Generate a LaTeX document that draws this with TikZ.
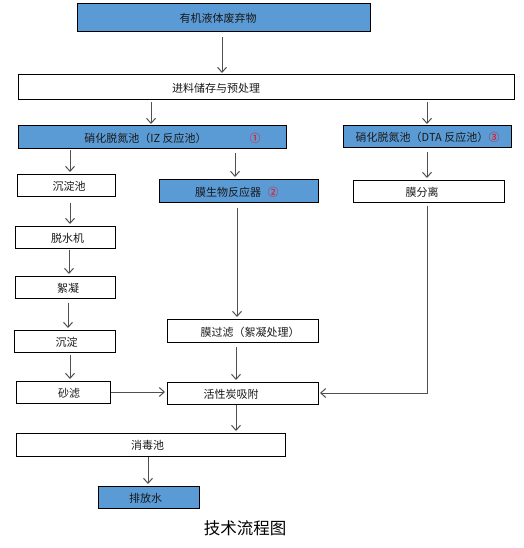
\documentclass[tikz,border=0pt]{standalone}
\usepackage{fontspec}
\setmainfont{Noto Sans CJK SC}
\usetikzlibrary{arrows.meta}
\definecolor{boxblue}{RGB}{91,155,213}
\definecolor{lnc}{RGB}{80,80,80}
\begin{document}
\begin{tikzpicture}[x=1pt,y=-1pt,
  box/.style={draw=black, line width=1pt, fill=white, inner sep=0pt},
  bbox/.style={box, fill=boxblue},
  txt/.style={font=\fontsize{11}{13}\selectfont, inner sep=0pt, text=black!90},
  num/.style={font=\fontsize{11}{13}\selectfont, inner sep=0pt, text=red},
  arr/.style={draw=lnc, line width=1pt, -{Straight Barb[length=5pt,width=9pt]}, shorten <=3pt, shorten >=1.5pt},
  ln/.style={draw=lnc, line width=1pt}]
\useasboundingbox (0,0) rectangle (523,548);
% boxes
\node[bbox, minimum width=293, minimum height=28] (top) at (223.5,18) {};
\node[box,  minimum width=496, minimum height=25] (jl)  at (266,87.5) {};
\node[bbox, minimum width=268, minimum height=23] (iz)  at (152,137.5) {};
\node[bbox, minimum width=168, minimum height=22] (dta) at (427,137) {};
\node[box,  minimum width=98,  minimum height=22] (cdc) at (66,185) {};
\node[bbox, minimum width=159, minimum height=23] (mbr) at (238.5,190.5) {};
\node[box,  minimum width=151, minimum height=22] (mf)  at (428.5,191) {};
\node[box,  minimum width=100, minimum height=22] (tsj) at (65,237) {};
\node[box,  minimum width=100, minimum height=22] (xn)  at (65,287) {};
\node[box,  minimum width=151, minimum height=23] (mgl) at (242.5,330.5) {};
\node[box,  minimum width=101, minimum height=22] (cd2) at (64.5,341) {};
\node[box,  minimum width=94,  minimum height=22] (sl)  at (63,392) {};
\node[box,  minimum width=151, minimum height=22] (hxt) at (242.5,393) {};
\node[box,  minimum width=269, minimum height=23] (xdc) at (150.5,444.5) {};
\node[bbox, minimum width=101, minimum height=22] (pfs) at (148.5,497) {};
% texts
\node[txt] (ttop) at (218,18) {有机液体废弃物};
\node[txt] (tjl)  at (216,88) {进料储存与预处理};
\node[txt] (tiz)  at (145.5,138) {硝化脱氮池（IZ 反应池）};
\node[num] (niz)  at (255,138) {①};
\node[txt] (tdta) at (422,137) {硝化脱氮池（DTA 反应池）};
\node[num] (ndta) at (494,137) {③};
\node[txt] (tcdc) at (69,186) {沉淀池};
\node[txt] (tmbr) at (228,192) {膜生物反应器};
\node[num] (nmbr) at (273,192) {②};
\node[txt] (tmf)  at (422,192) {膜分离};
\node[txt] (ttsj) at (67.5,238) {脱水机};
\node[txt] (txn)  at (68,288) {絮凝};
\node[txt] (tmgl) at (250,332) {膜过滤（絮凝处理）};
\node[txt] (tcd2) at (66.5,342) {沉淀};
\node[txt] (tsl)  at (69,393) {砂滤};
\node[txt] (thxt) at (231,394) {活性炭吸附};
\node[txt] (txdc) at (147.5,445) {消毒池};
\node[txt] (tpfs) at (145.5,498) {排放水};
\node[font=\fontsize{16.5}{19}\selectfont, inner sep=0pt] (cap) at (245,528) {技术流程图};
% helper x positions
\coordinate (x222) at (222,0);
\coordinate (x151) at (151,0);
\coordinate (x427) at (427,0);
\coordinate (x70) at (70,0);
\coordinate (x235) at (235,0);
\coordinate (x69) at (69,0);
\coordinate (x68) at (68,0);
\coordinate (x237) at (237,0);
\coordinate (x236) at (236,0);
\coordinate (x148) at (148,0);
% connectors
\draw[arr, shorten <=5pt] (x222 |- top.south) -- (x222 |- jl.north);
\draw[arr, shorten <=2pt] (x151 |- jl.south) -- (x151 |- iz.north);
\draw[arr, shorten <=2pt] (x427 |- jl.south) -- (x427 |- dta.north);
\draw[arr, shorten <=1pt] (x70 |- iz.south) -- (x70 |- cdc.north);
\draw[arr, shorten <=4pt] (x235 |- iz.south) -- (x235 |- mbr.north);
\draw[arr, shorten <=4pt] (x427 |- dta.south) -- (x427 |- mf.north);
\draw[arr, shorten <=6pt] (x70 |- cdc.south) -- (x70 |- tsj.north);
\draw[arr, shorten <=1pt] (x69 |- tsj.south) -- (x69 |- xn.north);
\draw[arr, shorten <=5pt] (x237 |- mbr.south) -- (x237 |- mgl.north);
\draw[arr, shorten <=4pt] (x68 |- xn.south) -- (x68 |- cd2.north);
\draw[arr, shorten <=2pt] (x70 |- cd2.south) -- (x70 |- sl.north);
\draw[arr, shorten <=4pt] (x236 |- mgl.south) -- (x236 |- hxt.north);
\draw[arr, shorten <=0pt] (sl.east) -- (sl.east -| hxt.west);
\draw[arr, shorten <=3pt] (x427 |- mf.south) -- (x427 |- hxt.east) -- (hxt.east);
\draw[arr, shorten <=0pt] (x236 |- hxt.south) -- (x236 |- xdc.north);
\draw[arr, shorten <=0pt] (x148 |- xdc.south) -- (x148 |- pfs.north);
\end{tikzpicture}
\end{document}
